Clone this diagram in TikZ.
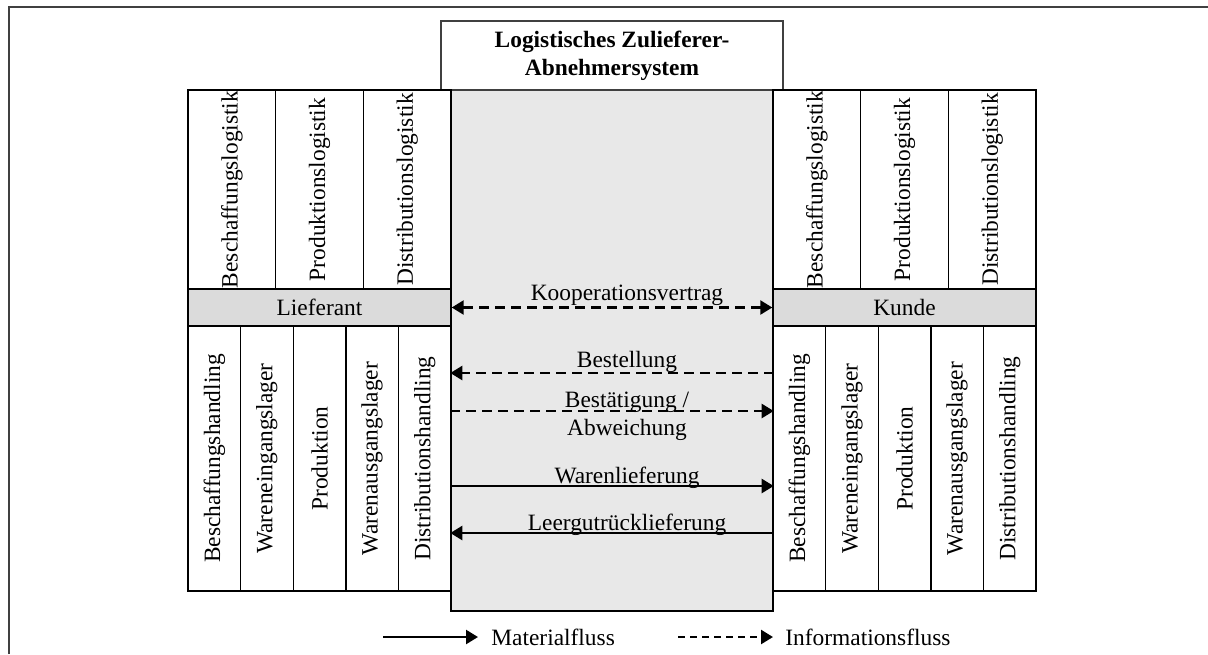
\documentclass[tikz,border=0pt]{standalone}
\usepackage{fontspec}
\setmainfont{Liberation Serif}
\usetikzlibrary{arrows.meta}

\definecolor{barfill}{gray}{0.86}
\definecolor{corefill}{gray}{0.91}
\definecolor{framecol}{gray}{0.25}

\begin{document}
\begin{tikzpicture}[
    x=0.5pt, y=-0.5pt,
    >={Triangle[length=6pt, width=7pt]},
    every node/.style={font=\fontsize{11.7}{14}\selectfont},
    box/.style={draw, line width=0.7pt, inner sep=0pt},
    logcol/.style={box, rotate=90, minimum width=99.5pt, minimum height=43.8pt},
    hdlcol/.style={box, rotate=90, minimum width=132.5pt, minimum height=26.3pt},
    bar/.style={box, fill=barfill, minimum width=131.5pt, minimum height=18.5pt},
    flow/.style={line width=1.2pt, ->},
    info/.style={flow, dash pattern=on 5pt off 3pt},
    flowlabel/.style={anchor=base, inner sep=0pt, align=center}]

  % frame
  \useasboundingbox (0,0) rectangle (1208,654);
  \draw[framecol, line width=0.7pt] (9,654) |- (1208,7);

  % system in the middle
  \node[box, fill=corefill, minimum width=161pt, minimum height=260.5pt] (core) at (612,350.5) {};
  \node[box, draw=framecol, fill=white, minimum width=171pt, minimum height=34.5pt,
        align=center, font=\fontsize{11.7}{14}\selectfont\bfseries] (title) at (612,55.5)
    {Logistisches Zulieferer-\\Abnehmersystem};

  % supplier
  \foreach \name/\txt [count=\i] in {lbl/Beschaffungslogistik, lpl/Produktionslogistik, ldl/Distributionslogistik}
    \node[logcol] (\name) at ({188+87.67*(\i-0.5)},189.5) {\txt};
  \node[bar] (lief) at (319.5,307.5) {Lieferant};
  \foreach \name/\txt [count=\i] in {lbh/Beschaffungshandling, lwe/Wareneingangslager, lpr/Produktion, lwa/Warenausgangslager, ldh/Distributionshandling}
    \node[hdlcol] (\name) at ({188+52.6*(\i-0.5)},458.5) {\txt};

  % customer
  \foreach \name/\txt [count=\i] in {kbl/Beschaffungslogistik, kpl/Produktionslogistik, kdl/Distributionslogistik}
    \node[logcol] (\name) at ({773+87.67*(\i-0.5)},189.5) {\txt};
  \node[bar] (kunde) at (904.5,307.5) {Kunde};
  \foreach \name/\txt [count=\i] in {kbh/Beschaffungshandling, kwe/Wareneingangslager, kpr/Produktion, kwa/Warenausgangslager, kdh/Distributionshandling}
    \node[hdlcol] (\name) at ({773+52.6*(\i-0.5)},458.5) {\txt};

  % flows
  \foreach \y/\nm in {373/bst, 411/bes, 486/wl, 533/lg} {
    \coordinate (\nm-l) at (core.west |- 0,\y);
    \coordinate (\nm-r) at (core.east |- 0,\y);
  }
  \draw[info, <->] (lief.east) -- (kunde.west);
  \draw[info] (bst-r) -- (bst-l);
  \draw[info] (bes-l) -- (bes-r);
  \draw[flow] (wl-l) -- (wl-r);
  \draw[flow] (lg-r) -- (lg-l);

  \node[flowlabel] (koop) at (627,300) {Kooperationsvertrag};
  \node[flowlabel] (bestell) at (627,367) {Bestellung};
  \node[flowlabel] (bestaet) at (627,435) {Bestätigung /\\Abweichung};
  \node[flowlabel] (waren) at (627,483) {Warenlieferung};
  \node[flowlabel] (leergut) at (627,530) {Leergutrücklieferung};

  % legend
  \coordinate (mat-a) at (383,637);
  \coordinate (mat-b) at (478,637);
  \coordinate (inf-a) at (678,637);
  \coordinate (inf-b) at (773,637);
  \draw[flow] (mat-a) -- (mat-b);
  \draw[flow, dash pattern=on 3.5pt off 2.5pt] (inf-a) -- (inf-b);
  \node[anchor=west, inner sep=0pt] (mat) at (491,637) {Materialfluss};
  \node[anchor=west, inner sep=0pt] (inf) at (785,637) {Informationsfluss};
\end{tikzpicture}
\end{document}
